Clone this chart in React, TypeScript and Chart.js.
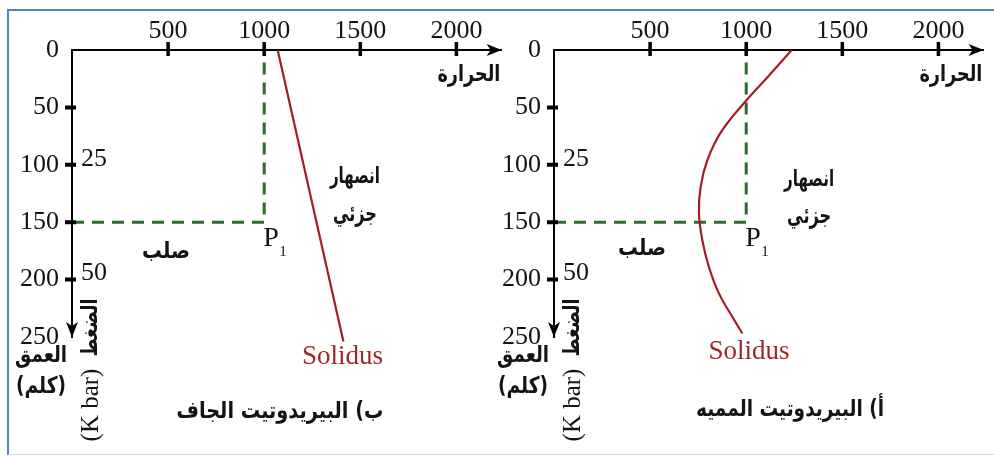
import React, { useEffect, useRef } from 'react';
import { Chart, registerables } from 'chart.js';

Chart.register(...registerables);

// ---- data -------------------------------------------------------------
const X_TICKS = [500, 1000, 1500, 2000];          // temperature ticks (°C)
const Y_TICKS = [0, 50, 100, 150, 200, 250];      // depth ticks (km)
const Y_TICK_MARKS = [50, 100, 150, 200];
const PRESSURE_LABELS = ['25', '50'];             // kbar
const PRESSURE_DEPTHS = [100, 200];               // km
const P1_TEMP = 1000;
const P1_DEPTH = 150;

// dry peridotite solidus (straight line)
const DRY_SOLIDUS_T = [1070, 1412];
const DRY_SOLIDUS_D = [0, 254];

// hydrated peridotite solidus (curve)
const WET_SOLIDUS_D = [0, 22, 44, 72, 96, 119, 142, 166, 189, 212, 235, 247];
const WET_SOLIDUS_T = [1237, 1120, 1000, 867, 798, 763, 754, 772, 806, 858, 937, 980];

const X_MAX = 2235;
const Y_MAX = 250;

const SERIF = "'Liberation Serif', 'DejaVu Serif', serif";
const ARABIC = "'DejaVu Sans', 'Noto Sans', sans-serif";
const RED = '#a31e24';
const GREEN = '#2c6a2e';
const INK = '#141414';

type PanelCfg = {
  pageLeft: number;
  solT: number[];
  solD: number[];
  tension: number;
  caption: string;
  captionAt: [number, number];
  captionW: number;
  meltAt: [number, number];
  partAt: [number, number];
  solidAt: [number, number];
  solidusAt: [number, number];
};

const PANELS: PanelCfg[] = [
  {
    pageLeft: 9,
    solT: DRY_SOLIDUS_T,
    solD: DRY_SOLIDUS_D,
    tension: 0,
    caption: 'ب) البيريدوتيت الجاف',
    captionAt: [1082, 315],
    captionW: 207,
    meltAt: [1472, 110.6],
    partAt: [1472, 143.7],
    solidAt: [489, 175.7],
    solidusAt: [1407, 267],
  },
  {
    pageLeft: 491,
    solT: WET_SOLIDUS_T,
    solD: WET_SOLIDUS_D,
    tension: 0.4,
    caption: 'أ) البيريدوتيت المميه',
    captionAt: [1228, 313.6],
    captionW: 188,
    meltAt: [1327, 113.2],
    partAt: [1327, 145.5],
    solidAt: [458, 173.3],
    solidusAt: [1015, 262.8],
  },
];

const CANVAS_W = 500;
const CANVAS_H = 444;
const CANVAS_TOP = 11;

// Arabic text: fixed size, squeezed horizontally to the measured width
function arText(
  ctx: CanvasRenderingContext2D,
  text: string,
  cx: number,
  cy: number,
  w: number,
  size: number,
) {
  ctx.save();
  ctx.font = `bold ${size}px ${ARABIC}`;
  ctx.direction = 'rtl';
  ctx.textAlign = 'center';
  ctx.textBaseline = 'middle';
  const m = ctx.measureText(text).width || 1;
  const sx = Math.min(1.15, w / m);
  ctx.translate(cx, cy);
  ctx.scale(sx, 1);
  ctx.fillText(text, 0, 0);
  ctx.restore();
}

function makeDecor(p: PanelCfg) {
  return {
    id: 'decor',
    afterDraw(chart: any) {
      const { ctx, chartArea: a, scales } = chart;
      const x = scales.x;
      const y = scales.y;
      ctx.save();
      // tick marks crossing the axes
      ctx.strokeStyle = '#000';
      ctx.lineWidth = 3.5;
      ctx.beginPath();
      X_TICKS.forEach((v) => {
        const px = x.getPixelForValue(v);
        ctx.moveTo(px, a.top - 8);
        ctx.lineTo(px, a.top + 6);
      });
      ctx.stroke();
      ctx.lineWidth = 4;
      ctx.beginPath();
      Y_TICK_MARKS.forEach((v) => {
        const py = y.getPixelForValue(v);
        ctx.moveTo(a.left - 7, py);
        ctx.lineTo(a.left + 4, py);
      });
      ctx.stroke();

      // arrow heads
      ctx.fillStyle = '#000';
      ctx.beginPath();
      ctx.moveTo(a.right, a.top);
      ctx.lineTo(a.right - 15, a.top - 6);
      ctx.lineTo(a.right - 11, a.top);
      ctx.lineTo(a.right - 15, a.top + 6);
      ctx.closePath();
      ctx.fill();
      ctx.beginPath();
      ctx.moveTo(a.left, a.bottom);
      ctx.lineTo(a.left - 6, a.bottom - 15);
      ctx.lineTo(a.left, a.bottom - 11);
      ctx.lineTo(a.left + 6, a.bottom - 15);
      ctx.closePath();
      ctx.fill();

      // pressure labels
      ctx.fillStyle = INK;
      ctx.font = `26px ${SERIF}`;
      ctx.direction = 'ltr';
      ctx.textAlign = 'left';
      ctx.textBaseline = 'middle';
      PRESSURE_LABELS.forEach((t, i) => {
        ctx.fillText(t, a.left + 9, y.getPixelForValue(PRESSURE_DEPTHS[i]) - 6);
      });

      // P1
      const px = x.getPixelForValue(P1_TEMP);
      const py = y.getPixelForValue(P1_DEPTH);
      ctx.font = `28px ${SERIF}`;
      ctx.fillText('P', px - 1, py + 16);
      ctx.font = `15px ${SERIF}`;
      ctx.fillText('1', px + 15, py + 30);

      // axis titles
      arText(ctx, 'الحرارة', x.getPixelForValue(2065), y.getPixelForValue(22), 63, 23);
      arText(ctx, 'العمق', a.left - 31, a.bottom + 19.5, 52, 23);
      arText(ctx, '(كلم)', a.left - 31, a.bottom + 50.5, 50, 23);

      // rotated pressure title
      ctx.save();
      ctx.translate(a.left + 19.5, a.bottom);
      ctx.rotate(-Math.PI / 2);
      ctx.font = `25px ${SERIF}`;
      ctx.direction = 'ltr';
      ctx.textAlign = 'center';
      ctx.textBaseline = 'middle';
      ctx.fillText('(K bar)', -68, 0);
      arText(ctx, 'الضغط', 9.5, 0, 58, 23);
      ctx.restore();

      // region labels
      arText(ctx, 'انصهار', x.getPixelForValue(p.meltAt[0]), y.getPixelForValue(p.meltAt[1]), 50, 23);
      arText(ctx, 'جزئي', x.getPixelForValue(p.partAt[0]), y.getPixelForValue(p.partAt[1]), 44, 23);
      arText(ctx, 'صلب', x.getPixelForValue(p.solidAt[0]), y.getPixelForValue(p.solidAt[1]), 48, 23);
      arText(ctx, p.caption, x.getPixelForValue(p.captionAt[0]), y.getPixelForValue(p.captionAt[1]), p.captionW, 23);

      // Solidus label
      ctx.fillStyle = '#a0262b';
      ctx.font = `27px ${SERIF}`;
      ctx.direction = 'ltr';
      ctx.textAlign = 'center';
      ctx.textBaseline = 'middle';
      ctx.fillText('Solidus', x.getPixelForValue(p.solidusAt[0]), y.getPixelForValue(p.solidusAt[1]));
      ctx.restore();
    },
  };
}

function Panel({ cfg }: { cfg: PanelCfg }) {
  const ref = useRef<HTMLCanvasElement>(null);
  useEffect(() => {
    if (!ref.current) return;
    const chart = new Chart(ref.current, {
      type: 'scatter',
      data: {
        datasets: [
          {
            data: cfg.solT.map((t, i) => ({ x: t, y: cfg.solD[i] })),
            showLine: true,
            borderColor: RED,
            borderWidth: 2.2,
            pointRadius: 0,
            tension: cfg.tension,
            clip: false as any,
          },
          {
            data: [
              { x: 0, y: P1_DEPTH },
              { x: P1_TEMP, y: P1_DEPTH },
              { x: P1_TEMP, y: 0 },
            ],
            showLine: true,
            borderColor: GREEN,
            borderWidth: 3,
            borderDash: [12, 8],
            pointRadius: 0,
            tension: 0,
          },
        ],
      },
      options: {
        responsive: false,
        animation: false,
        events: [],
        layout: { padding: { left: 0, top: 0, right: 7.4, bottom: 118 } },
        plugins: { legend: { display: false }, tooltip: { enabled: false } },
        scales: {
          x: {
            type: 'linear',
            position: 'top',
            min: 0,
            max: X_MAX,
            afterBuildTicks: (s: any) => {
              s.ticks = X_TICKS.map((v) => ({ value: v }));
            },
            afterFit: (s: any) => {
              s.height = 39;
            },
            grid: { display: false, drawTicks: false },
            border: { display: true, color: '#000', width: 2 },
            ticks: {
              padding: 3,
              color: INK,
              autoSkip: false,
              maxRotation: 0,
              font: { family: SERIF, size: 26 },
              callback: (v: any) => String(v),
            },
          },
          y: {
            type: 'linear',
            position: 'left',
            reverse: true,
            min: 0,
            max: Y_MAX,
            afterBuildTicks: (s: any) => {
              s.ticks = Y_TICKS.map((v) => ({ value: v }));
            },
            afterFit: (s: any) => {
              s.width = 63;
            },
            grid: { display: false, drawTicks: false },
            border: { display: true, color: '#000', width: 2 },
            ticks: {
              padding: 13,
              color: INK,
              autoSkip: false,
              font: { family: SERIF, size: 26 },
              callback: (v: any) => String(v),
            },
          },
        },
      },
      plugins: [makeDecor(cfg)],
    } as any);
    return () => chart.destroy();
  }, [cfg]);
  return (
    <canvas
      ref={ref}
      width={CANVAS_W}
      height={CANVAS_H}
      style={{
        position: 'absolute',
        left: cfg.pageLeft,
        top: CANVAS_TOP,
        width: CANVAS_W,
        height: CANVAS_H,
      }}
    />
  );
}

export default function App() {
  return (
    <div
      style={{
        position: 'absolute',
        left: 0,
        top: 0,
        width: 994,
        height: 456,
        overflow: 'hidden',
        background: '#fff',
      }}
    >
      <div
        style={{
          position: 'absolute',
          left: 7,
          top: 9,
          width: 990,
          height: 446,
          boxSizing: 'border-box',
          borderTop: '2px solid #4a84c4',
          borderLeft: '2px solid #4a84c4',
          borderBottom: '1px solid #cfe0f1',
        }}
      />
      {PANELS.map((p, i) => (
        <Panel key={i} cfg={p} />
      ))}
    </div>
  );
}
